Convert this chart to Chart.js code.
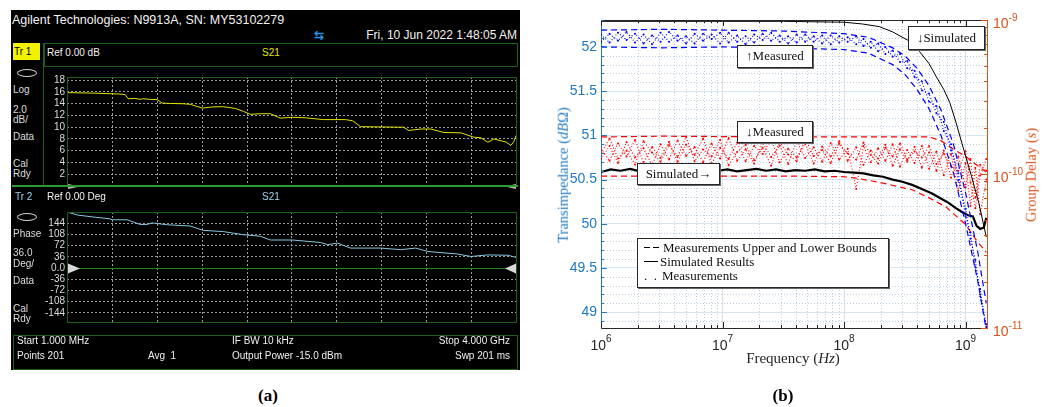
<!DOCTYPE html>
<html>
<head>
<meta charset="utf-8">
<script src="https://cdn.jsdelivr.net/npm/chart.js@4.4.1/dist/chart.umd.min.js"></script>
<style>
  body { margin:0; width:1043px; height:407px; background:#fff; position:relative; overflow:hidden; font-family:"Liberation Sans", Arial, sans-serif; }
  canvas { position:absolute; }
  .t { position:absolute; white-space:nowrap; line-height:1; font-size:10px; color:#dcdcdc; }
  .fr { position:absolute; box-sizing:border-box; border:1px solid #1d5f1d; pointer-events:none; }
  .s { position:absolute; white-space:nowrap; line-height:1; font-family:"Liberation Serif", "Times New Roman", serif; }
  .box { position:absolute; box-sizing:border-box; background:#fff; border:1px solid #262626; box-shadow:1px 1px 0 #666;
         font-family:"Liberation Serif", serif; font-size:13px; color:#111; text-align:center; line-height:20px; white-space:nowrap; }
</style>
</head>
<body>
<!-- (a) analyser screenshot -->
<div style="position:absolute;left:11px;top:10px;width:509px;height:360px;background:#000"></div>
<div class="t" style="left:12px;top:14px;font-size:12.5px;color:#f2f2f2">Agilent Technologies: N9913A, SN: MY53102279</div>
<div class="t" style="left:314px;top:29px;font-size:12px;color:#2b8fe0;font-weight:bold">⇆</div>
<div class="t" style="right:526px;top:29px;font-size:12px;color:#f2f2f2">Fri, 10 Jun 2022 1:48:05 AM</div>

<div style="position:absolute;left:13px;top:43px;width:27px;height:17px;background:#f2f200"></div>
<div class="t" style="left:14px;top:47px;color:#000">Tr 1</div>
<div class="fr" style="left:44px;top:43px;width:474px;height:24px"></div>
<div class="t" style="left:47px;top:48px;color:#f2f2f2">Ref 0.00 dB</div>
<div class="t" style="left:262px;top:48px;color:#e6e600">S21</div>
<div style="position:absolute;left:43px;top:43px;width:1px;height:143px;background:#1d5f1d"></div>
<div style="position:absolute;left:17px;top:69px;width:18px;height:6px;border:1px solid #cfcfcf;border-radius:50%"></div>
<div class="t" style="left:13px;top:84.5px">Log</div>
<div class="t" style="left:13px;top:104.5px">2.0</div>
<div class="t" style="left:13px;top:114.5px">dB/</div>
<div class="t" style="left:13px;top:131.5px">Data</div>
<div class="t" style="left:13px;top:158.5px">Cal</div>
<div class="t" style="left:13px;top:168.5px">Rdy</div>

<canvas id="mag" width="474" height="127" style="left:44px;top:67px"></canvas>
<div class="fr" style="left:67px;top:77px;width:450px;height:109px"></div>
<div style="position:absolute;left:12px;top:185px;width:506px;height:2px;background:#2e9a2e"></div>

<div class="t" style="left:15px;top:191.5px;color:#9fd3ee">Tr 2</div>
<div class="t" style="left:47px;top:191.5px;color:#f2f2f2">Ref 0.00 Deg</div>
<div class="t" style="left:262px;top:191.5px;color:#9fd3ee">S21</div>
<div style="position:absolute;left:17px;top:213px;width:18px;height:6px;border:1px solid #cfcfcf;border-radius:50%"></div>
<div class="t" style="left:13px;top:228.5px">Phase</div>
<div class="t" style="left:13px;top:247.5px">36.0</div>
<div class="t" style="left:13px;top:258.5px">Deg/</div>
<div class="t" style="left:13px;top:275.5px">Data</div>
<div class="t" style="left:13px;top:303.5px">Cal</div>
<div class="t" style="left:13px;top:313.5px">Rdy</div>

<canvas id="phase" width="474" height="130" style="left:44px;top:202px"></canvas>
<div class="fr" style="left:67px;top:212px;width:450px;height:111px"></div>

<div class="fr" style="left:13px;top:335px;width:505px;height:35px"></div>
<div class="t" style="left:17px;top:336px;color:#eeeeee">Start 1.000 MHz</div>
<div class="t" style="left:232px;top:336px;color:#eeeeee">IF BW 10 kHz</div>
<div class="t" style="right:533px;top:336px;color:#eeeeee">Stop 4.000 GHz</div>
<div class="t" style="left:17px;top:350.5px;color:#eeeeee">Points 201</div>
<div class="t" style="left:148px;top:350.5px;color:#eeeeee">Avg&nbsp;&nbsp;1</div>
<div class="t" style="left:232px;top:350.5px;color:#eeeeee">Output Power -15.0 dBm</div>
<div class="t" style="right:533px;top:350.5px;color:#eeeeee">Swp 201 ms</div>

<div class="s" style="left:238px;width:60px;text-align:center;top:387px;font-size:17px;font-weight:bold;color:#000">(a)</div>

<!-- (b) transimpedance / group delay -->
<canvas id="ti" width="503" height="375" style="left:540px;top:0px"></canvas>
<div class="s" style="left:693px;width:200px;text-align:center;top:350.5px;font-size:15px;color:#262626">Frequency (<i>Hz</i>)</div>
<div class="s" style="left:563px;top:175px;font-size:14.5px;color:#1f78c1;transform:translate(-50%,-50%) rotate(-90deg)">Transimpedance (<i>dB</i>Ω)</div>
<div class="s" style="left:1031px;top:175px;font-size:14.5px;color:#D95319;transform:translate(-50%,-50%) rotate(-90deg)">Group Delay (<i>s</i>)</div>

<div class="box" style="left:737px;top:45px;width:76px;height:23px">↑Measured</div>
<div class="box" style="left:908px;top:26px;width:77px;height:24px;line-height:21px">↓Simulated</div>
<div class="box" style="left:737px;top:121px;width:76px;height:22px">↓Measured</div>
<div class="box" style="left:637px;top:163px;width:83px;height:22px">Simulated→</div>

<div class="box" style="left:637px;top:238px;width:252px;height:50px;text-align:left;line-height:1">
  <div style="position:absolute;left:6px;top:8px;width:6px;border-top:1.5px solid #000"></div>
  <div style="position:absolute;left:15px;top:8px;width:6px;border-top:1.5px solid #000"></div>
  <div class="s" style="left:25px;top:2px;font-size:13px">Measurements Upper and Lower Bounds</div>
  <div style="position:absolute;left:6px;top:22px;width:14px;border-top:1.5px solid #000"></div>
  <div class="s" style="left:22px;top:16px;font-size:13px">Simulated Results</div>
  <div class="s" style="left:6px;top:30px;font-size:13px">.&nbsp;&nbsp;.</div>
  <div class="s" style="left:24px;top:30px;font-size:13px">Measurements</div>
</div>

<div class="s" style="left:753px;width:60px;text-align:center;top:387px;font-size:17px;font-weight:bold;color:#000">(b)</div>

<script>
// ---- (a) S21 log magnitude and phase ----
const magFreq = [1, 117, 250, 384, 473, 518, 544, 607, 651, 678, 740, 803, 847, 918, 1034, 1096, 1203, 1292,
  1390, 1497, 1568, 1631, 1720, 1809, 1898, 2005, 2121, 2281, 2477, 2539, 2610, 2789, 2993, 3038, 3145,
  3234, 3350, 3501, 3617, 3679, 3741, 3795, 3857, 3902, 3946, 3973, 3991];
const magDb = [15.9, 15.85, 15.8, 15.7, 15.65, 15.55, 14.85, 14.9, 14.75, 14.85, 14.75, 14.7, 14.1, 14.05,
  14.0, 13.9, 13.25, 13.45, 13.5, 13.2, 12.7, 12.2, 12.3, 12.3, 11.55, 11.7, 11.6, 11.3, 11.3, 11.1, 10.1,
  10.05, 10.0, 9.45, 9.7, 9.7, 9.1, 9.05, 8.3, 8.2, 7.45, 8.0, 7.7, 7.5, 6.9, 7.6, 8.6];
const phFreq = [1, 98, 233, 384, 402, 535, 651, 713, 758, 892, 1096, 1212, 1390, 1568, 1720, 1809, 2005,
  2254, 2317, 2406, 2521, 2789, 2967, 3100, 3207, 3474, 3590, 3741, 3919, 3991];
const phDeg = [180, 170, 164, 158, 155, 155, 140, 140, 145, 139, 135, 121, 117, 107, 102, 90, 90, 82, 75,
  80, 64, 64, 59, 64, 53, 45, 37, 42, 41, 34];
const vnaGridFreq = [401, 801, 1201, 1601, 2000, 2400, 2800, 3200, 3600];
const magTicks = [2, 4, 6, 8, 10, 12, 14, 16, 18];
const phTicks = [144, 108, 72, 36, 0, -36, -72, -108, -144];

// ---- (b) transimpedance (left axis, dBOhm) and group delay (right axis, x1e-10 s) ----
const measExp = [6.00, 6.07, 6.14, 6.21, 6.28, 6.35, 6.42, 6.49, 6.56, 6.63,
  6.70, 6.77, 6.84, 6.91, 6.98, 7.05, 7.12, 7.19, 7.26, 7.33,
  7.40, 7.47, 7.54, 7.61, 7.68, 7.75, 7.82, 7.89, 7.96, 8.03,
  8.10, 8.16, 8.22, 8.28, 8.34, 8.40, 8.46, 8.52, 8.58, 8.64,
  8.70, 8.76, 8.82, 8.88, 8.94, 9.00, 9.04, 9.08, 9.12, 9.17];
const blueRun1 = [52.14, 52.05, 52.16, 52.08, 52.15, 52.04, 52.13, 52.06, 52.17, 52.07,
  52.12, 52.04, 52.15, 52.09, 52.16, 52.05, 52.13, 52.03, 52.14, 52.08,
  52.16, 52.06, 52.12, 52.05, 52.14, 52.06, 52.13, 52.03, 52.12, 52.06,
  52.12, 52.01, 52.06, 51.95, 52.00, 51.89, 51.92, 51.76, 51.73, 51.51,
  51.47, 51.25, 51.15, 50.83, 50.57, 50.08, 49.90, 49.51, 49.26, 48.83];
const blueRun2 = [52.06, 52.15, 52.07, 52.17, 52.05, 52.14, 52.03, 52.16, 52.06, 52.13,
  52.04, 52.15, 52.07, 52.14, 52.04, 52.16, 52.06, 52.12, 52.05, 52.15,
  52.07, 52.13, 52.04, 52.14, 52.06, 52.12, 52.04, 52.13, 52.05, 52.11,
  52.03, 52.09, 51.99, 52.04, 51.92, 51.96, 51.83, 51.84, 51.66, 51.61,
  51.38, 51.33, 51.05, 50.90, 50.49, 50.17, 49.83, 49.59, 49.18, 48.86];
const redRun1 = [1.45, 1.22, 1.58, 1.30, 1.66, 1.18, 1.50, 1.27, 1.62, 1.20,
  1.55, 1.33, 1.70, 1.16, 1.48, 1.25, 1.60, 1.21, 1.52, 1.35,
  1.68, 1.19, 1.46, 1.28, 1.57, 1.17, 1.51, 1.30, 1.63, 1.22,
  1.49, 1.15, 1.42, 1.26, 1.55, 1.13, 1.45, 1.20, 1.50, 1.10,
  1.38, 1.05, 1.42, 0.95, 1.30, 0.82, 1.25, 0.70, 1.15, 1.05];
const redRun2 = [1.25, 1.52, 1.18, 1.61, 1.28, 1.47, 1.14, 1.56, 1.24, 1.65,
  1.31, 1.50, 1.19, 1.58, 1.26, 1.71, 1.22, 1.45, 1.17, 1.60,
  1.29, 1.53, 1.16, 1.64, 1.27, 1.49, 1.20, 1.59, 1.24, 1.46,
  0.80, 1.52, 1.19, 1.47, 1.22, 1.56, 1.12, 1.43, 1.18, 1.52,
  1.08, 1.40, 0.98, 1.35, 0.78, 1.18, 0.62, 1.10, 0.55, 0.92];
const redRun3 = [1.36, 1.70, 1.26, 1.42, 1.15, 1.63, 1.38, 1.20, 1.54, 1.29,
  1.74, 1.21, 1.44, 1.30, 1.66, 1.14, 1.39, 1.55, 1.23, 1.48,
  1.13, 1.62, 1.34, 1.21, 1.69, 1.31, 1.43, 1.18, 1.57, 1.36,
  1.24, 1.60, 1.33, 1.17, 1.48, 1.30, 1.58, 1.24, 1.40, 1.28,
  1.52, 1.16, 1.36, 1.12, 1.05, 1.40, 0.88, 0.60, 0.98, 1.25];

const blueBoundExp = [6.0, 6.5, 7.0, 7.5, 8.0, 8.2, 8.4, 8.5, 8.6, 8.7, 8.8, 8.9, 9.0, 9.1, 9.17];
const blueUpper = [52.19, 52.20, 52.19, 52.18, 52.15, 52.11, 51.99, 51.90, 51.76, 51.56, 51.28, 50.90, 50.35, 49.68, 49.10];
const blueLower = [52.00, 51.99, 52.00, 51.99, 51.97, 51.93, 51.80, 51.69, 51.52, 51.30, 50.99, 50.58, 50.00, 49.35, 48.80];
const redUpExp = [6.0, 6.5, 7.0, 7.5, 8.0, 8.5, 8.7, 8.8, 8.9, 9.0, 9.1, 9.17];
const redUpper = [1.74, 1.76, 1.75, 1.75, 1.74, 1.74, 1.74, 1.64, 1.45, 1.30, 1.13, 1.03];
const redLoExp = [6.0, 7.0, 7.5, 8.0, 8.1, 8.3, 8.56, 8.7, 8.84, 9.0, 9.09, 9.17];
const redLower = [0.97, 0.97, 0.97, 0.96, 0.94, 0.88, 0.79, 0.70, 0.61, 0.47, 0.37, 0.31];

const simTiExp = [6.0, 7.0, 7.5, 8.0, 8.15, 8.29, 8.4, 8.52, 8.62, 8.7, 8.76, 8.82, 8.87, 8.92, 8.97, 9.01, 9.05, 9.11, 9.17];
const simTi = [52.29, 52.29, 52.29, 52.28, 52.26, 52.23, 52.17, 52.08, 51.95, 51.81, 51.66, 51.52, 51.37, 51.15, 50.91, 50.72, 50.53, 50.23, 49.85];
const simGdExp = [6.00, 6.08, 6.16, 6.24, 6.32, 6.40, 6.48, 6.56, 6.64, 6.72, 6.80, 6.88, 6.96, 7.04, 7.12,
  7.20, 7.28, 7.36, 7.44, 7.52, 7.60, 7.68, 7.76, 7.84, 7.92, 8.00, 8.08, 8.16, 8.24, 8.32, 8.40, 8.48,
  8.56, 8.64, 8.72, 8.80, 8.86, 8.92, 8.98, 9.02, 9.06, 9.09, 9.12, 9.15, 9.17];
const simGd = [1.03, 1.07, 1.05, 1.08, 1.04, 1.06, 1.09, 1.05, 1.07, 1.04, 1.06, 1.08, 1.05, 1.07, 1.04,
  1.06, 1.08, 1.05, 1.07, 1.04, 1.06, 1.05, 1.07, 1.04, 1.05, 1.03, 1.02, 1.01, 0.98, 0.96, 0.92, 0.89,
  0.85, 0.80, 0.75, 0.69, 0.65, 0.60, 0.56, 0.54, 0.53, 0.46, 0.44, 0.45, 0.52];

const tiTicks = [49, 49.5, 50, 50.5, 51, 51.5, 52];
const freqDecades = [1e6, 1e7, 1e8, 1e9];
const gdDecades = [1e-11, 1e-10, 1e-9];

const BLUE = '#0000ff', RED = '#ff0000', AXBLUE = '#1f78c1', AXORANGE = '#D95319';

// ---------- (a) ----------
const vnaRef = {
  id: 'vnaRef',
  afterDraw(chart, args, opts) {
    const { ctx, chartArea: a, scales: { y } } = chart;
    const py = Math.round(y.getPixelForValue(0)) + 0.5;
    ctx.save();
    if (opts.line) {
      ctx.strokeStyle = '#1f8a1f';
      ctx.beginPath(); ctx.moveTo(a.left, py); ctx.lineTo(a.right, py); ctx.stroke();
    }
    ctx.fillStyle = opts.marker;
    const h = opts.size;
    ctx.beginPath(); ctx.moveTo(a.left + 1, py - h / 2); ctx.lineTo(a.left + 13, py); ctx.lineTo(a.left + 1, py + h / 2); ctx.fill();
    ctx.beginPath(); ctx.moveTo(a.right - 1, py - h / 2); ctx.lineTo(a.right - 12, py); ctx.lineTo(a.right - 1, py + h / 2); ctx.fill();
    ctx.restore();
  }
};

function vnaChart(id, freq, vals, color, yMin, yMax, ticks, refOpts) {
  return new Chart(document.getElementById(id), {
    type: 'scatter',
    data: { datasets: [{ data: freq.map((f, i) => ({ x: f, y: vals[i] })), showLine: true,
      borderColor: color, borderWidth: 1, pointRadius: 0 }] },
    options: {
      responsive: false, animation: false, events: [],
      layout: { padding: { top: 10, bottom: 8, right: 1, left: 0 } },
      plugins: { legend: { display: false }, tooltip: { enabled: false }, vnaRef: refOpts },
      scales: {
        x: { type: 'linear', min: 1, max: 4000,
          afterBuildTicks: s => { s.ticks = vnaGridFreq.map(v => ({ value: v })); },
          afterFit: s => { s.height = 0; },
          ticks: { display: false },
          grid: { color: '#9a9a9a', drawTicks: false },
          border: { display: false, dash: [2, 2] } },
        y: { min: yMin, max: yMax,
          afterBuildTicks: s => { s.ticks = ticks.map(v => ({ value: v })); },
          afterFit: s => { s.width = 23; },
          ticks: { color: '#dcdcdc', padding: 2, autoSkip: false, font: { size: 10, family: '"Liberation Sans", Arial' },
            callback: v => (v === 0 ? '0.0' : String(v)) },
          grid: { color: c => (c.tick && c.tick.value === 0 ? 'rgba(0,0,0,0)' : '#9a9a9a'), drawTicks: false },
          border: { display: false, dash: [2, 2] } }
      }
    },
    plugins: [vnaRef]
  });
}

vnaChart('mag', magFreq, magDb, '#e3e300', 0, 18.55, magTicks, { line: false, marker: '#bdbdbd', size: 5 });
vnaChart('phase', phFreq, phDeg, '#86c8e0', -180, 180, phTicks, { line: true, marker: '#d8d8d8', size: 10 });

// ---------- (b) ----------
const pts = (exps, vals, k) => exps.map((e, i) => ({ x: Math.pow(10, e), y: vals[i] * k }));

const matlabAxes = {
  id: 'matlabAxes',
  beforeDatasetsDraw(chart) {
    const { ctx, chartArea: a, scales: { x, y } } = chart;
    ctx.save();
    ctx.strokeStyle = '#bcd0e2'; ctx.lineWidth = 1; ctx.setLineDash([1, 2]);
    for (let d = 6; d <= 9; d++) for (let m = 2; m <= 9; m++) {
      const v = m * Math.pow(10, d);
      if (v >= x.max) continue;
      const px = Math.round(x.getPixelForValue(v)) + 0.5;
      ctx.beginPath(); ctx.moveTo(px, a.top); ctx.lineTo(px, a.bottom); ctx.stroke();
    }
    for (let k = 489; k <= 523; k++) {
      if (k % 5 === 0) continue;
      const py = Math.round(y.getPixelForValue(k / 10)) + 0.5;
      ctx.beginPath(); ctx.moveTo(a.left, py); ctx.lineTo(a.right, py); ctx.stroke();
    }
    ctx.restore();
  },
  afterDraw(chart) {
    const { ctx, chartArea: a, scales: { x, y, y2 } } = chart;
    ctx.save();
    ctx.lineWidth = 1;
    ctx.strokeStyle = '#262626';
    ctx.beginPath(); ctx.moveTo(a.left, a.top + 0.5); ctx.lineTo(a.right, a.top + 0.5); ctx.stroke();
    for (let d = 6; d <= 9; d++) for (let m = 1; m <= 9; m++) {
      const v = m * Math.pow(10, d);
      if (v > x.max) continue;
      const px = Math.round(x.getPixelForValue(v)) + 0.5, len = m === 1 ? 6 : 3;
      ctx.beginPath(); ctx.moveTo(px, a.bottom); ctx.lineTo(px, a.bottom - len);
      ctx.moveTo(px, a.top); ctx.lineTo(px, a.top + len); ctx.stroke();
    }
    ctx.strokeStyle = AXBLUE;
    for (let k = 489; k <= 523; k++) {
      const py = Math.round(y.getPixelForValue(k / 10)) + 0.5, len = k % 5 === 0 ? 6 : 3;
      ctx.beginPath(); ctx.moveTo(a.left, py); ctx.lineTo(a.left + len, py); ctx.stroke();
    }
    ctx.strokeStyle = AXORANGE;
    for (let d = -11; d <= -9; d++) for (let m = 1; m <= 9; m++) {
      const v = m * Math.pow(10, d);
      if (v > y2.max * 1.0001) continue;
      const py = Math.round(y2.getPixelForValue(v)) + 0.5, len = m === 1 ? 6 : 3;
      ctx.beginPath(); ctx.moveTo(a.right, py); ctx.lineTo(a.right - len, py); ctx.stroke();
    }
    // power-of-ten tick labels
    const big = '14px "Liberation Sans", Arial', small = '10px "Liberation Sans", Arial';
    ctx.textBaseline = 'middle'; ctx.textAlign = 'left';
    freqDecades.forEach(v => {
      const px = x.getPixelForValue(v), ex = String(Math.round(Math.log10(v)));
      ctx.font = big; const wb = ctx.measureText('10').width;
      ctx.font = small; const we = ctx.measureText(ex).width;
      const x0 = px - (wb + we) / 2;
      ctx.fillStyle = '#262626';
      ctx.font = big; ctx.fillText('10', x0, a.bottom + 18);
      ctx.font = small; ctx.fillText(ex, x0 + wb, a.bottom + 11);
    });
    gdDecades.forEach(v => {
      const py = y2.getPixelForValue(v), ex = String(Math.round(Math.log10(v)));
      const x0 = a.right + 6;
      ctx.fillStyle = AXORANGE;
      ctx.font = big; const wb = ctx.measureText('10').width; ctx.fillText('10', x0, py + 4);
      ctx.font = small; ctx.fillText(ex, x0 + wb, py - 2);
    });
    ctx.restore();
  }
};

const line = (data, axis, color, width, dash) => ({ data, yAxisID: axis, showLine: true, borderColor: color,
  borderWidth: width, borderDash: dash, pointRadius: 0 });
const cloud = (data, axis, color) => ({ data, yAxisID: axis, showLine: true, borderColor: color, borderWidth: 1.1,
  borderDash: [1, 2], pointRadius: 1, pointBorderWidth: 0, pointBackgroundColor: color });

new Chart(document.getElementById('ti'), {
  type: 'scatter',
  data: { datasets: [
    line(pts(simTiExp, simTi, 1), 'y', '#000', 1, []),
    cloud(pts(measExp, blueRun1, 1), 'y', BLUE),
    cloud(pts(measExp, blueRun2, 1), 'y', BLUE),
    line(pts(blueBoundExp, blueUpper, 1), 'y', BLUE, 1.2, [6, 4]),
    line(pts(blueBoundExp, blueLower, 1), 'y', BLUE, 1.2, [6, 4]),
    line(pts(simGdExp, simGd, 1e-10), 'y2', '#000', 2.2, []),
    line(pts(redUpExp, redUpper, 1e-10), 'y2', RED, 1.2, [6, 4]),
    line(pts(redLoExp, redLower, 1e-10), 'y2', RED, 1.2, [6, 4]),
    cloud(pts(measExp, redRun1, 1e-10), 'y2', RED),
    cloud(pts(measExp, redRun2, 1e-10), 'y2', RED),
    cloud(pts(measExp, redRun3, 1e-10), 'y2', RED)
  ] },
  options: {
    responsive: false, animation: false, events: [],
    layout: { padding: { top: 20, right: 0, left: 0, bottom: 0 } },
    plugins: { legend: { display: false }, tooltip: { enabled: false } },
    scales: {
      x: { type: 'logarithmic', min: 1e6, max: 1.5e9,
        afterBuildTicks: s => { s.ticks = freqDecades.map(v => ({ value: v })); },
        afterFit: s => { s.height = 47; },
        ticks: { display: false },
        grid: { color: '#dedede', drawTicks: false },
        border: { color: '#262626' } },
      y: { position: 'left', min: 48.82, max: 52.305,
        afterBuildTicks: s => { s.ticks = tiTicks.map(v => ({ value: v })); },
        afterFit: s => { s.width = 61; },
        ticks: { color: AXBLUE, padding: 4, autoSkip: false, font: { size: 14, family: '"Liberation Sans", Arial' },
          callback: v => String(v) },
        grid: { color: '#d6e6f3', drawTicks: false },
        border: { color: AXBLUE } },
      y2: { type: 'logarithmic', position: 'right', min: 1e-11, max: 1e-9,
        afterBuildTicks: s => { s.ticks = gdDecades.map(v => ({ value: v })); },
        afterFit: s => { s.width = 56; },
        ticks: { display: false },
        grid: { drawOnChartArea: false, drawTicks: false },
        border: { color: AXORANGE } }
    }
  },
  plugins: [matlabAxes]
});
</script>
</body>
</html>
